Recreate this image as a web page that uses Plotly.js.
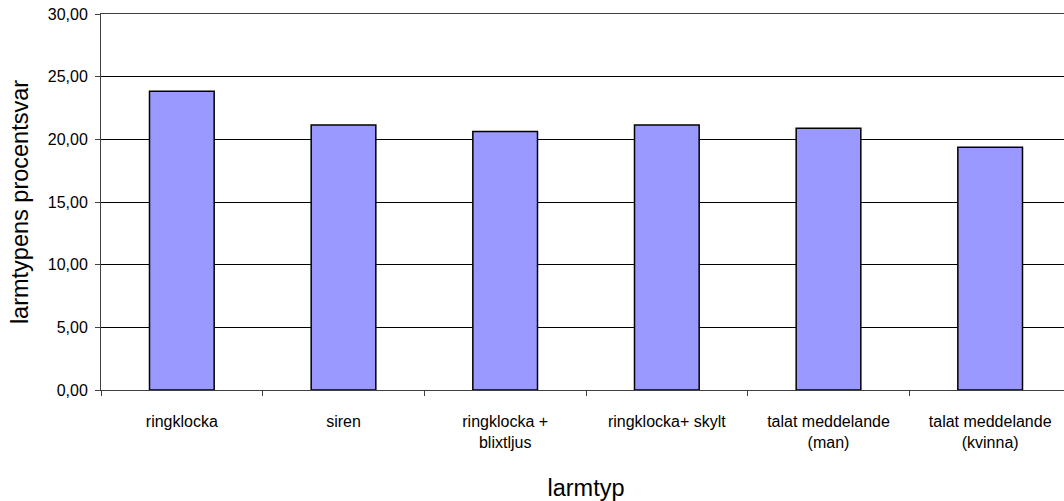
<!DOCTYPE html>
<html>
<head>
<meta charset="utf-8">
<script src="https://cdn.plot.ly/plotly-3.0.1.min.js"></script>
<style>
html,body{margin:0;padding:0;overflow:hidden;background:#fff;}
#chart{width:1080px;height:501px;}
</style>
</head>
<body>
<div id="chart"></div>
<script>
const categories = ["ringklocka", "siren", "ringklocka +<br>blixtljus", "ringklocka+ skylt", "talat meddelande<br>(man)", "talat meddelande<br>(kvinna)"];
const values = [23.84, 21.15, 20.62, 21.15, 20.88, 19.37];
const yTickVals = [0, 5, 10, 15, 20, 25, 30];
const yTickText = ["0,00", "5,00", "10,00", "15,00", "20,00", "25,00", "30,00"];

const trace = {
  type: "bar",
  x: categories,
  y: values,
  marker: {color: "#9999FF", line: {color: "#000000", width: 1.5}},
  hoverinfo: "none"
};

const layout = {
  width: 1080,
  height: 501,
  margin: {l: 101, r: 9, t: 14, b: 111},
  paper_bgcolor: "#ffffff",
  plot_bgcolor: "#ffffff",
  showlegend: false,
  bargap: 0.6,
  font: {family: "Liberation Sans, Arial, sans-serif", size: 16, color: "#000"},
  xaxis: {
    type: "category",
    tickson: "boundaries",
    ticks: "outside",
    ticklen: 5,
    tickcolor: "#404040",
    showgrid: false,
    showline: true,
    mirror: true,
    linecolor: "#404040",
    linewidth: 1,
    automargin: false,
    ticklabelstandoff: 17,
    tickfont: {size: 16},
    title: {text: "larmtyp", font: {size: 23.5}, standoff: 29}
  },
  yaxis: {
    range: [0, 30],
    tickvals: yTickVals,
    ticktext: yTickText,
    ticks: "outside",
    ticklen: 5,
    tickcolor: "#404040",
    showgrid: true,
    gridcolor: "#000000",
    gridwidth: 1,
    showline: true,
    linecolor: "#404040",
    linewidth: 1,
    zeroline: false,
    automargin: false,
    ticklabelstandoff: 4,
    tickfont: {size: 16},
    title: {text: "larmtypens procentsvar", font: {size: 23.5}, standoff: 12}
  }
};

Plotly.newPlot("chart", [trace], layout, {staticPlot: true, displayModeBar: false});
</script>
</body>
</html>
